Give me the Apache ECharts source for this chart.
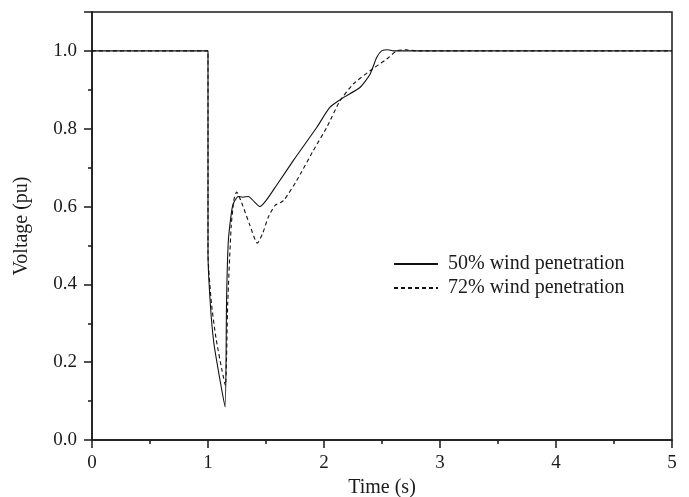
<!DOCTYPE html>
<html>
<head>
<meta charset="utf-8">
<script src="https://cdn.jsdelivr.net/npm/echarts@6/dist/echarts.min.js"></script>
<style>
	html, body { margin: 0; padding: 0; background: #fff; }
	#chart { width: 689px; height: 497px; }
</style>
</head>
<body>
<div id="chart"></div>
<script>
// 50% wind penetration (solid)
const timeA = [0, 1.0, 1.0, 1.02, 1.05, 1.1, 1.147, 1.16, 1.175, 1.2, 1.218, 1.26, 1.3, 1.348, 1.4, 1.448, 1.5, 1.59, 1.735, 1.937, 2.05, 2.167, 2.31, 2.397, 2.454, 2.497, 2.55, 2.6, 5];
const voltA = [1.0, 1.0, 0.48, 0.35, 0.25, 0.16, 0.085, 0.36, 0.51, 0.58, 0.607, 0.626, 0.624, 0.626, 0.612, 0.6, 0.615, 0.654, 0.718, 0.803, 0.855, 0.88, 0.906, 0.94, 0.983, 1.0, 1.003, 1.0, 1.0];
// 72% wind penetration (dashed)
const timeB = [0, 1.0, 1.0, 1.03, 1.07, 1.12, 1.15, 1.17, 1.2, 1.225, 1.247, 1.29, 1.362, 1.425, 1.47, 1.52, 1.578, 1.65, 1.765, 1.908, 2.023, 2.138, 2.253, 2.397, 2.54, 2.627, 2.7, 2.8, 5];
const voltB = [1.0, 1.0, 0.48, 0.35, 0.26, 0.18, 0.14, 0.35, 0.55, 0.62, 0.637, 0.61, 0.551, 0.506, 0.53, 0.573, 0.603, 0.615, 0.667, 0.744, 0.803, 0.872, 0.915, 0.949, 0.979, 1.0, 1.003, 1.0, 1.0];
const seriesNames = ['50% wind penetration', '72% wind penetration'];

const font = 'Liberation Serif';
const ink = '#1a1a1a';

function pairs(xs, ys) {
	return xs.map((x, i) => [x, ys[i]]);
}

const chart = echarts.init(document.getElementById('chart'));
chart.setOption({
	backgroundColor: '#fff',
	animation: false,
	grid: {
		left: 92, right: 17, top: 12, bottom: 57,
		outerBoundsMode: 'none', containLabel: false,
		show: true, borderColor: ink, borderWidth: 1.5
	},
	legend: {
		orient: 'vertical',
		left: 388, top: 249,
		itemWidth: 44, itemHeight: 20, itemGap: 4,
		itemStyle: { opacity: 0 },
		textStyle: { fontFamily: font, fontSize: 20, color: ink, padding: [0, 0, 0, 5] },
		data: seriesNames
	},
	xAxis: {
		type: 'value', min: 0, max: 5, interval: 1,
		name: 'Time (s)', nameLocation: 'middle', nameGap: 36,
		nameTextStyle: { fontFamily: font, fontSize: 20, color: ink },
		axisLine: { lineStyle: { color: ink, width: 1.5 } },
		axisTick: { inside: false, length: 8, lineStyle: { color: ink, width: 1.5 } },
		minorTick: { show: true, splitNumber: 2, length: 4, lineStyle: { color: ink, width: 1.5 } },
		axisLabel: { fontFamily: font, fontSize: 19, color: ink, margin: 14 },
		splitLine: { show: false }
	},
	yAxis: {
		type: 'value', min: 0, max: 1.1, interval: 0.2,
		name: 'Voltage (pu)', nameLocation: 'middle', nameGap: 60,
		nameTextStyle: { fontFamily: font, fontSize: 20, color: ink },
		axisLine: { lineStyle: { color: ink, width: 1.5 } },
		axisTick: { inside: false, length: 8, lineStyle: { color: ink, width: 1.5 } },
		minorTick: { show: true, splitNumber: 2, length: 4, lineStyle: { color: ink, width: 1.5 } },
		axisLabel: {
			fontFamily: font, fontSize: 19, color: ink, margin: 15, showMaxLabel: false,
			formatter: v => v.toFixed(1)
		},
		splitLine: { show: false }
	},
	series: [
		{
			name: seriesNames[0], type: 'line', data: pairs(timeA, voltA),
			symbol: 'none', smooth: 0.2,
			lineStyle: { color: '#111', width: 1.1, type: 'solid' },
			itemStyle: { color: '#111' }
		},
		{
			name: seriesNames[1], type: 'line', data: pairs(timeB, voltB),
			symbol: 'none', smooth: 0.2,
			lineStyle: { color: '#111', width: 1.1, type: [4, 3] },
			itemStyle: { color: '#111' }
		}
	]
});
</script>
</body>
</html>
